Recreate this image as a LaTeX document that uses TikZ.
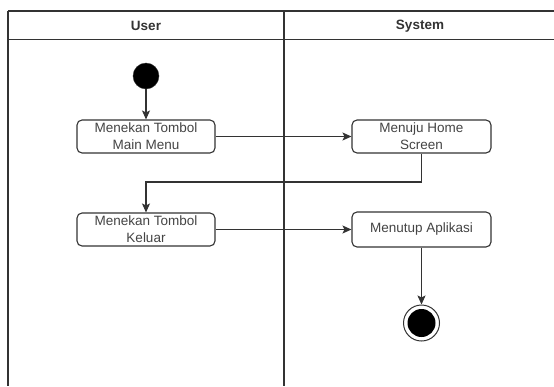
\documentclass[tikz,border=0pt]{standalone}
\usepackage{fontspec}
\setmainfont{Liberation Sans}
\usetikzlibrary{arrows.meta}
\definecolor{ink}{HTML}{333333}
\definecolor{txt}{HTML}{444444}
\tikzset{
  lane/.style={draw=ink, line width=1.2pt},
  action/.style={draw=ink, line width=1.1pt, rounded corners=5pt, fill=white,
    minimum width=138pt, minimum height=33pt, inner sep=0pt, align=center,
    text=txt, font=\fontsize{13.5}{17}\selectfont},
  head/.style={text=ink, font=\fontsize{13.5}{16}\selectfont\bfseries},
  startstate/.style={circle, fill=black, draw=ink, minimum size=26pt, inner sep=0pt},
  endstate/.style={circle, draw=ink, line width=1pt, fill=white, minimum size=36pt, inner sep=0pt,
    path picture={\fill[black] (path picture bounding box.center) circle (14pt);}},
  flow/.style={draw=ink, line width=1.1pt, -{Stealth[length=9pt,width=8pt,inset=2pt]}}
}
\begin{document}
\begin{tikzpicture}[x=1pt,y=-1pt]
  \useasboundingbox (0,0) rectangle (554,386);
  \fill[white] (0,0) rectangle (554,386);
  % swimlane frame
  \draw[lane] (8,11) -- (554,11);
  \draw[lane] (8,39.5) -- (554,39.5);
  \draw[lane] (8,11) -- (8,386);
  \draw[lane] (284,11) -- (284,386);
  \node[head] (huser) at (146,26) {User};
  \node[head] (hsys) at (420,26) {System};
  % activity nodes
  \node[startstate] (start) at (146,76) {};
  \node[action] (a1) at (146,136.5) {Menekan Tombol\\Main Menu};
  \node[action, minimum width=139pt] (s1) at (421.5,136.5) {Menuju Home\\Screen};
  \node[action] (a2) at (146,229.5) {Menekan Tombol\\Keluar};
  \node[action, minimum width=139pt, minimum height=35pt] (s2) at (421.5,229.5) {Menutup Aplikasi};
  \node[endstate] (end) at (421.5,323) {};
  \coordinate (turn) at (146,182);
  % transitions
  \draw[flow] (start) -- (a1);
  \draw[flow] (a1) -- (s1);
  \draw[flow] (s1.south) |- (turn) -- (a2.north);
  \draw[flow] (a2) -- (s2);
  \draw[flow] (s2) -- (end);
\end{tikzpicture}
\end{document}
